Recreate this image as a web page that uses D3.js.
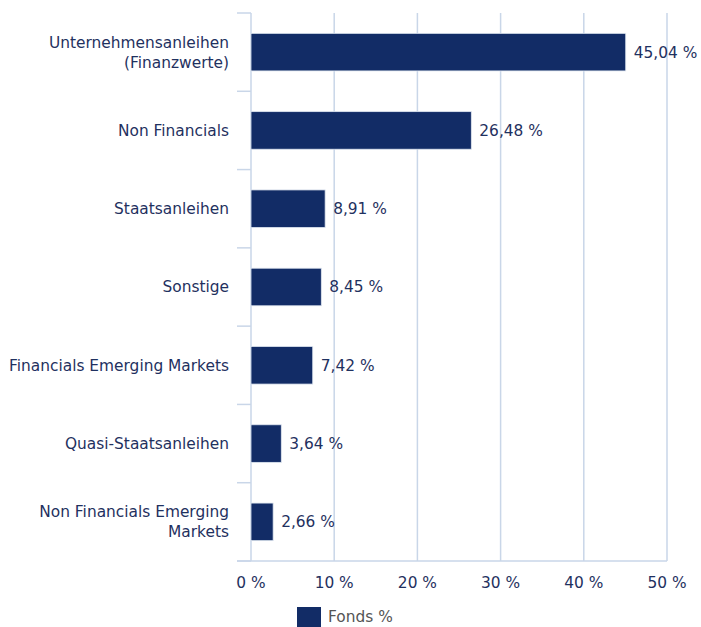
<!DOCTYPE html>
<html><head><meta charset="utf-8">
<script src="https://cdn.jsdelivr.net/npm/d3@7"></script>
<style>body{margin:0;background:#fff;}svg{display:block;font-family:"DejaVu Sans",Verdana,sans-serif;}</style>
</head><body><svg id="c" width="701" height="627"></svg>
<script>
const categories = [["Unternehmensanleihen","(Finanzwerte)"],["Non Financials"],["Staatsanleihen"],["Sonstige"],["Financials Emerging Markets"],["Quasi-Staatsanleihen"],["Non Financials Emerging","Markets"]];
const values = [45.04, 26.48, 8.91, 8.45, 7.42, 3.64, 2.66];
const ticks = [0, 10, 20, 30, 40, 50];
const seriesName = "Fonds %";

const svg = d3.select("#c");
const grid = "#c9d6e8", text = "#1f3160", bar = "#122c66";
const x = d3.scaleLinear().domain([0, 50]).range([251, 667]);
const y = d3.scaleBand().domain(d3.range(categories.length)).range([13, 561]).paddingInner(0.52).paddingOuter(0.26);
const fmt = v => d3.format(".2f")(v).replace(".", ",") + " %";

// vertical grid
svg.append("g").selectAll("line").data(ticks.slice(1)).join("line")
  .attr("x1", d => x(d)).attr("x2", d => x(d)).attr("y1", 13).attr("y2", 561)
  .attr("stroke", grid).attr("stroke-width", 1.5);
// left axis
svg.append("line").attr("x1", x(0)).attr("x2", x(0)).attr("y1", 13).attr("y2", 561).attr("stroke", grid).attr("stroke-width", 1.5);
// category separator ticks
const bounds = d3.range(categories.length + 1).map(i => 13 + i * (548 / categories.length));
svg.append("g").selectAll("line").data(bounds).join("line")
  .attr("x1", 237).attr("x2", x(0)).attr("y1", d => d).attr("y2", d => d)
  .attr("stroke", grid).attr("stroke-width", 1.5);
// bottom axis
svg.append("line").attr("x1", 237).attr("x2", x(50)).attr("y1", 561).attr("y2", 561).attr("stroke", grid).attr("stroke-width", 1.5);

// bars
svg.append("g").selectAll("rect").data(values).join("rect")
  .attr("x", x(0)).attr("y", (d, i) => y(i)).attr("width", d => x(d) - x(0)).attr("height", y.bandwidth())
  .attr("fill", bar).attr("stroke", "#dfe6f0").attr("stroke-width", 0.8);

// value labels
svg.append("g").selectAll("text").data(values).join("text")
  .attr("x", d => x(d) + 8).attr("y", (d, i) => y(i) + y.bandwidth() / 2).attr("dy", "0.35em")
  .attr("fill", text).attr("font-size", 15.4).text(d => fmt(d));

// category labels
const cl = svg.append("g").selectAll("text").data(categories).join("text")
  .attr("text-anchor", "end").attr("fill", text).attr("font-size", 15.4)
  .attr("transform", (d, i) => `translate(229,${y(i) + y.bandwidth() / 2})`);
cl.each(function(d) {
  const t = d3.select(this);
  const n = d.length, lh = 20;
  d.forEach((s, k) => t.append("tspan").attr("x", 0).attr("y", (k - (n - 1) / 2) * lh).attr("dy", "0.35em").text(s));
});

// x tick labels
svg.append("g").selectAll("text").data(ticks).join("text")
  .attr("x", d => x(d)).attr("y", 588).attr("text-anchor", "middle")
  .attr("fill", text).attr("font-size", 15.4).text(d => d + " %");

// legend
svg.append("rect").attr("x", 297).attr("y", 607).attr("width", 24).attr("height", 20).attr("fill", bar);
svg.append("text").attr("x", 328).attr("y", 622).attr("fill", "#555").attr("font-size", 15.4).text(seriesName);
</script></body></html>
